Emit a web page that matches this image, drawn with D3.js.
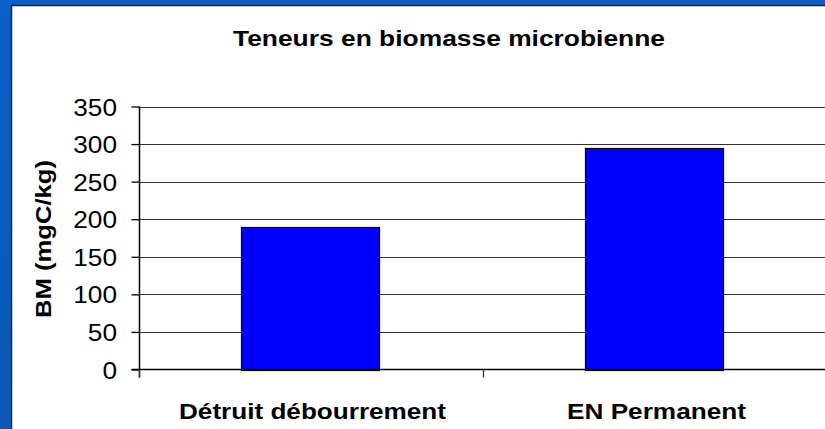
<!DOCTYPE html>
<html>
<head>
<meta charset="utf-8">
<script src="https://cdn.jsdelivr.net/npm/d3@7"></script>
<style>
html,body{margin:0;padding:0;background:#0b5cc2;overflow:hidden;}
svg{display:block;}
text{font-family:Arial,"Liberation Sans",sans-serif;fill:#000;}
</style>
</head>
<body>
<script>
const categories = ["Détruit débourrement", "EN Permanent"];
const values = [189, 295];
const yTicks = [0, 50, 100, 150, 200, 250, 300, 350];
const title = "Teneurs en biomasse microbienne";
const yLabel = "BM (mgC/kg)";

(function () {
const W = 825, H = 429;
const svg = d3.select("body").append("svg").attr("width", W).attr("height", H);

// background
const defs = svg.append("defs");
const lg = defs.append("linearGradient").attr("id","bg").attr("x1",0).attr("x2",0).attr("y1",0).attr("y2",1);
lg.append("stop").attr("offset","0%").attr("stop-color","#0a60c8");
lg.append("stop").attr("offset","100%").attr("stop-color","#0a58b8");
svg.append("rect").attr("width",W).attr("height",H).attr("fill","url(#bg)");

// white panel
svg.append("rect").attr("x",11.5).attr("y",5.5).attr("width",W+20).attr("height",H+20)
  .attr("fill","#fff").attr("stroke","#1b2540").attr("stroke-width",1.5);

const pLeft = 139.5, pRight = 827.5, pTop = 106.5, pBottom = 369.5;
const x = d3.scaleBand().domain(categories).range([pLeft, pRight]).padding(0);
const y = d3.scaleLinear().domain([0, 350]).range([pBottom, pTop]);

// gridlines
svg.append("g").selectAll("line").data(yTicks.filter(d => d > 0)).join("line")
  .attr("x1", pLeft).attr("x2", pRight)
  .attr("y1", d => Math.round(y(d)) + 0.5).attr("y2", d => Math.round(y(d)) + 0.5)
  .attr("stroke", "#333").attr("stroke-width", 1);

// bars
const bw = x.bandwidth();
svg.append("g").selectAll("rect").data(values).join("rect")
  .attr("x", (d, i) => Math.round(x(categories[i]) + bw * 0.3 - 1.5) + 0.5)
  .attr("width", Math.round(bw * 0.4))
  .attr("y", d => Math.round(y(d)) + 0.5)
  .attr("height", d => Math.round(pBottom) - Math.round(y(d)))
  .attr("fill", "#0000ff").attr("stroke", "#000").attr("stroke-width", 1.2);

// y axis
const yAxis = d3.axisLeft(y).tickValues(yTicks).tickSize(8).tickFormat("");
const gy = svg.append("g").attr("transform", `translate(${pLeft},0)`).call(yAxis);
gy.select(".domain").attr("stroke", "#000").attr("stroke-width", 1.5).attr("d", `M0,${pTop}V${pBottom + 8}`);
gy.selectAll(".tick line").attr("stroke", "#000").attr("stroke-width", 1.3);

// y tick labels
svg.append("g").selectAll("text").data(yTicks).join("text")
  .attr("transform", d => `translate(117,${y(d) + 9}) scale(1.14,1)`)
  .attr("text-anchor", "end").attr("font-size", 23).text(d => d);

// x axis
const xAxis = d3.axisBottom(x).tickSize(8).tickFormat("");
const gx = svg.append("g").attr("transform", `translate(0,${pBottom})`).call(xAxis);
gx.selectAll(".tick").remove();
gx.select(".domain").attr("stroke", "#000").attr("stroke-width", 1.5).attr("d", `M${pLeft - 8},0H${pRight}`);
const bounds = [pLeft, pLeft + bw, pRight];
gx.selectAll(".ctick").data(bounds).join("line").attr("class","ctick")
  .attr("x1", d => d).attr("x2", d => d).attr("y1", 0).attr("y2", 8)
  .attr("stroke", "#333").attr("stroke-width", 1.3);

// category labels
const catLen = [267, 179];
svg.append("g").selectAll("text").data(categories).join("text")
  .attr("x", d => x(d) + bw / 2 + 1).attr("y", 419)
  .attr("text-anchor", "middle").attr("font-size", 22.5).attr("font-weight", "bold")
  .attr("textLength", (d, i) => catLen[i]).attr("lengthAdjust", "spacingAndGlyphs")
  .text(d => d);

// title
svg.append("text").attr("x", 449).attr("y", 46).attr("text-anchor", "middle")
  .attr("font-size", 22).attr("font-weight", "bold")
  .attr("textLength", 432).attr("lengthAdjust", "spacingAndGlyphs").text(title);

// y label
svg.append("text").attr("transform", "translate(51,239) rotate(-90)")
  .attr("text-anchor", "middle").attr("font-size", 22).attr("font-weight", "bold")
  .attr("textLength", 158).attr("lengthAdjust", "spacingAndGlyphs").text(yLabel);
})();
</script>
</body>
</html>
